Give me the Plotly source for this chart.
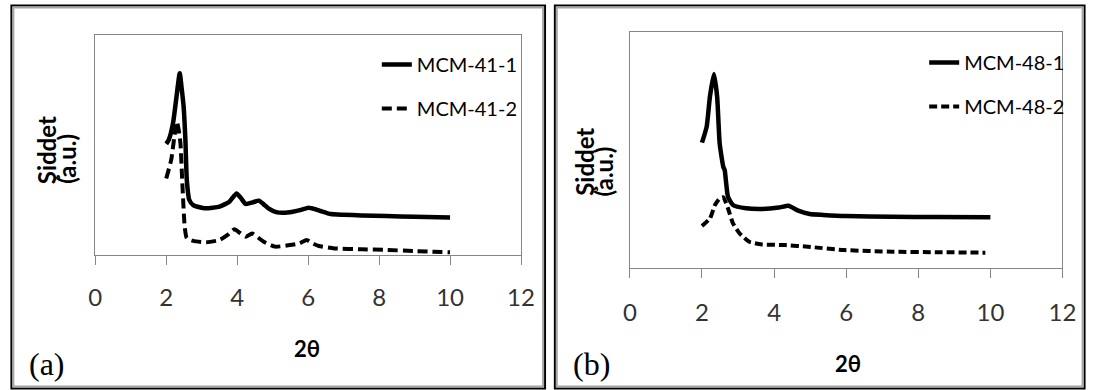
import plotly.graph_objects as go

# ---------------- data ----------------
x_ticks = [0, 2, 4, 6, 8, 10, 12]

mcm41_1_x = [2.0, 2.07, 2.19, 2.29, 2.38, 2.44, 2.49, 2.54, 2.58, 2.65, 2.76, 3.0, 3.13, 3.5, 3.78,
             3.98, 4.1, 4.24, 4.45, 4.61, 4.75, 4.88, 5.1, 5.3, 5.57, 5.8, 6.01, 6.2, 6.35, 6.64,
             7.0, 7.5, 8.2, 9.0, 10.0]
mcm41_1_y = [50.5, 52.3, 59.8, 72.0, 82.6, 75.0, 67.4, 52.3, 34.0, 25.0, 22.7, 21.5, 21.2, 22.0, 24.2,
             28.0, 26.0, 23.2, 24.0, 24.7, 23.0, 21.2, 19.5, 19.2, 19.7, 20.5, 21.5, 20.8, 20.0, 18.6,
             18.3, 18.0, 17.7, 17.4, 17.1]

mcm41_2_x = [2.0, 2.14, 2.23, 2.30, 2.35, 2.40, 2.45, 2.52, 2.58, 2.76, 3.13, 3.5, 3.73, 3.92, 4.08,
             4.24, 4.42, 4.6, 4.75, 5.07, 5.48, 5.75, 5.96, 6.1, 6.3, 6.74, 7.5, 8.2, 9.0, 10.0]
mcm41_2_y = [34.8, 43.2, 53.8, 60.6, 57.0, 50.8, 34.0, 12.9, 7.6, 6.4, 5.8, 6.8, 9.1, 11.7, 10.0,
             8.3, 9.8, 7.8, 6.0, 3.8, 4.5, 5.3, 6.8, 5.5, 4.1, 3.0, 2.6, 2.3, 1.8, 1.2]

mcm48_1_x = [2.0, 2.13, 2.22, 2.33, 2.42, 2.49, 2.59, 2.63, 2.67, 2.72, 2.86, 3.22, 3.67, 4.13, 4.4,
             4.67, 4.99, 5.36, 6.0, 7.28, 8.5, 10.0]
mcm48_1_y = [53.1, 59.9, 72.6, 82.2, 72.6, 52.8, 42.9, 41.5, 36.0, 30.2, 26.7, 25.3, 25.0, 25.6, 26.4,
             24.3, 22.9, 22.5, 22.0, 21.7, 21.6, 21.5]

mcm48_2_x = [2.0, 2.22, 2.36, 2.49, 2.59, 2.72, 2.86, 3.04, 3.31, 3.67, 4.31, 4.94, 5.94, 7.28, 8.5, 9.86]
mcm48_2_y = [17.8, 21.0, 26.7, 29.5, 30.0, 25.3, 18.9, 14.7, 11.1, 10.0, 9.7, 9.0, 7.6, 6.9, 6.7, 6.5]

# ---------------- layout helpers ----------------
W, H = 1102, 390
def px(v):
    return v / W
def py(v):
    return 1 - v / H

SANS = "Lato, Liberation Sans Narrow, sans-serif"
SERIF = "Liberation Serif, Times New Roman, serif"
AXIS_GRAY = "#868686"

fig = go.Figure()

fig.add_trace(go.Scatter(x=mcm41_1_x, y=mcm41_1_y, name="MCM-41-1", mode="lines",
                         line=dict(color="black", width=4.5, shape="spline", smoothing=0.5),
                         xaxis="x", yaxis="y", legend="legend", legendgroup="a1"))
fig.add_trace(go.Scatter(x=mcm41_2_x, y=mcm41_2_y, name="MCM-41-2", mode="lines",
                         line=dict(color="black", width=4, dash="10px,5px", shape="spline", smoothing=0.5),
                         xaxis="x", yaxis="y", legend="legend", legendgroup="a2"))
fig.add_trace(go.Scatter(x=mcm48_1_x, y=mcm48_1_y, name="MCM-48-1", mode="lines",
                         line=dict(color="black", width=4.5, shape="spline", smoothing=0.5),
                         xaxis="x2", yaxis="y2", legend="legend2", legendgroup="b1"))
fig.add_trace(go.Scatter(x=mcm48_2_x, y=mcm48_2_y, name="MCM-48-2", mode="lines",
                         line=dict(color="black", width=4, dash="8px,4px", shape="spline", smoothing=0.5),
                         xaxis="x2", yaxis="y2", legend="legend2", legendgroup="b2"))

xcommon = dict(range=[0, 12], tickvals=x_ticks, ticktext=[str(t) for t in x_ticks],
               ticks="outside", ticklen=9, tickcolor=AXIS_GRAY, tickwidth=1,
               showline=True, mirror=True, linecolor=AXIS_GRAY, linewidth=1,
               showgrid=False, zeroline=False,
               tickfont=dict(family=SANS, size=24, color="#333333"))
ycommon = dict(range=[0, 100], showticklabels=False, ticks="", showline=True, mirror=True,
               linecolor=AXIS_GRAY, linewidth=1, showgrid=False, zeroline=False)

legcommon = dict(font=dict(family=SANS, size=20, color="black"), bgcolor="rgba(0,0,0,0)",
                 borderwidth=0, tracegroupgap=15, xanchor="left", yanchor="top")

fig.update_layout(
    width=W, height=H, margin=dict(l=0, r=0, t=0, b=0, pad=0),
    paper_bgcolor="white", plot_bgcolor="white",
    xaxis=dict(domain=[px(90), px(524)], anchor="y", ticklabelstandoff=12, **xcommon),
    yaxis=dict(domain=[py(255), py(35)], anchor="x", **ycommon),
    xaxis2=dict(domain=[px(635), px(1076)], anchor="y2", ticklabelstandoff=14, **xcommon),
    yaxis2=dict(domain=[py(268), py(32)], anchor="x2", **ycommon),
    legend=dict(x=px(377), y=py(45), **legcommon),
    legend2=dict(x=px(935), y=py(43), **legcommon),
    showlegend=True,
)

# axis titles and panel labels
ann = []
for xc, yc, lab in [(306, 348, "2θ"), (857, 363, "2θ")]:
    ann.append(dict(x=px(xc), y=py(yc), xref="paper", yref="paper", text="<b>" + lab + "</b>",
                    showarrow=False, xanchor="center", yanchor="middle",
                    font=dict(family=SANS, size=22, color="black")))
for xc, yb, lab in [(40, 186, "Şiddet"), (60, 186, "(a.u.)"), (588, 198, "Şiddet"), (608, 198, "(a.u.)")]:
    ann.append(dict(x=px(xc), y=py(yb), xref="paper", yref="paper", text="<b>" + lab + "</b>",
                    showarrow=False, textangle=-90, xanchor="center", yanchor="bottom",
                    font=dict(family=SANS, size=24, color="black")))
for xl, lab in [(20, "(a)"), (575, "(b)")]:
    ann.append(dict(x=px(xl), y=py(364), xref="paper", yref="paper", text=lab, showarrow=False,
                    xanchor="left", yanchor="middle", font=dict(family=SERIF, size=32, color="black")))
fig.update_layout(annotations=ann)

# panel frames (black outer line with grey inner shading)
shapes = []
for x0, x1 in [(4.5, 548.5), (558.5, 1098.5)]:
    shapes.append(dict(type="rect", xref="paper", yref="paper", x0=px(x0), x1=px(x1),
                       y0=py(388.5), y1=py(5.5), line=dict(color="black", width=2)))
    shapes.append(dict(type="rect", xref="paper", yref="paper", x0=px(x0 + 2), x1=px(x1 - 2),
                       y0=py(386.5), y1=py(7.5), line=dict(color="#a6a6a6", width=2)))
fig.update_layout(shapes=shapes)

fig.write_html("out.html")
